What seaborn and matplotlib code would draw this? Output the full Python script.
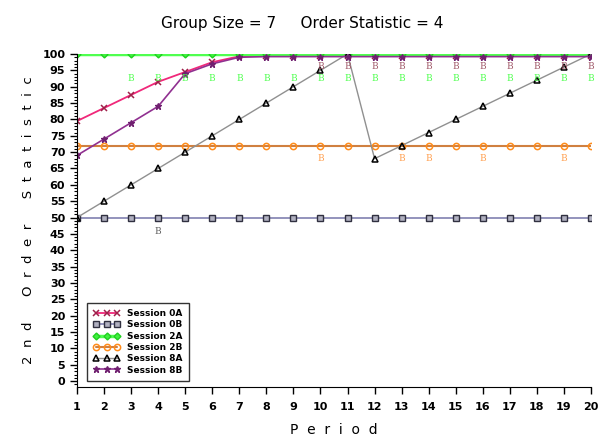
import numpy as np
import pandas as pd
import matplotlib
matplotlib.use("Agg")
import matplotlib.pyplot as plt
import seaborn as sns
from matplotlib.ticker import MultipleLocator

periods = list(range(1, 21))
s0A = [79.5, 83.5, 87.5, 91.5, 94.5, 97.5, 99.3, 99.5, 99.5, 99.5, 99.5, 99.5, 99.5, 99.5, 99.5, 99.5, 99.5, 99.5, 99.5, 99.5]
s0B = [50] * 20
s2A = [100] * 20
s2B = [72] * 20
s8A = [50, 55, 60, 65, 70, 75, 80, 85, 90, 95, 100, 68, 72, 76, 80, 84, 88, 92, 96, 100]
s8B = [69, 74, 79, 84, 94, 97, 99, 99.2, 99.2, 99.2, 99.2, 99.2, 99.2, 99.2, 99.2, 99.2, 99.2, 99.2, 99.2, 99.2]

labels = ["Session 0A", "Session 0B", "Session 2A", "Session 2B", "Session 8A", "Session 8B"]
series = [s0A, s0B, s2A, s2B, s8A, s8B]

# "B" annotations
bG_x = list(range(3, 21)); bG_y = 92.6
bM_x = list(range(10, 21)); bM_y = 96.3
bO_x = [10, 13, 14, 16, 19]; bO_y = 68.0
bK_x = [4]; bK_y = 45.7

sns.set_style("ticks")
plt.rcParams['font.family'] = ['DejaVu Sans']
plt.rcParams['text.color'] = 'black'
plt.rcParams['axes.labelcolor'] = 'black'
plt.rcParams['xtick.color'] = 'black'
plt.rcParams['ytick.color'] = 'black'
plt.rcParams['axes.edgecolor'] = 'black'

fig = plt.figure(figsize=(6.04, 4.43), dpi=100)
ax = fig.add_axes([77/604, 1 - 387/443, (591-77)/604, (387-54)/443])

styles = {
    "Session 0A": dict(color="#F0287A", marker="x", mec="#A0204A", mfc="none", ms=4.5, lw=1.3, mew=1.1),
    "Session 0B": dict(color="#8080B0", marker="s", mec="#303040", mfc="#B0B0C0", ms=4.5, lw=1.2, mew=1.0),
    "Session 2A": dict(color="#50FF50", marker="D", mec="#20D020", mfc="#40F040", ms=3.5, lw=2.5, mew=1.0),
    "Session 2B": dict(color="#D08040", marker="o", mec="#FF8C1A", mfc="none", ms=4.5, lw=1.5, mew=1.1),
    "Session 8A": dict(color="#909090", marker="^", mec="black", mfc="none", ms=4.5, lw=1.0, mew=1.1),
    "Session 8B": dict(color="#903090", marker="*", mec="#702070", mfc="#702070", ms=5, lw=1.2, mew=1.0),
}

for lab, vals in zip(labels, series):
    df = pd.DataFrame({"Period": periods, "v": vals})
    st = styles[lab]
    sns.lineplot(data=df, x="Period", y="v", ax=ax, label=lab, color=st["color"],
                 marker=st["marker"], markeredgecolor=st["mec"], markerfacecolor=st["mfc"],
                 markersize=st["ms"], linewidth=st["lw"], markeredgewidth=st["mew"])

bfont = dict(family="DejaVu Serif", fontsize=6.5, ha="center", va="center")
for x in bG_x:
    ax.text(x, bG_y, "B", color="#50FF50", **bfont)
for x in bM_x:
    ax.text(x, bM_y, "B", color="#A05868", **bfont)
for x in bO_x:
    ax.text(x, bO_y, "B", color="#FFA050", **bfont)
for x in bK_x:
    ax.text(x, bK_y, "B", color="#606060", **bfont)

ax.set_xlim(1, 20)
ax.set_ylim(-1.8, 100)
ax.set_xticks(periods)
ax.set_yticks(range(0, 101, 5))
ax.yaxis.set_minor_locator(MultipleLocator(1))
ax.tick_params(axis="both", which="major", labelsize=8, length=5, width=1, direction="out")
ax.tick_params(axis="y", which="minor", length=2.5, width=0.8)
for lbl in ax.get_xticklabels() + ax.get_yticklabels():
    lbl.set_fontweight("bold")
ax.tick_params(axis="x", pad=6)
ax.spines["top"].set_visible(False)
ax.spines["right"].set_visible(False)
ax.spines["left"].set_bounds(-1.8, 100)

ax.set_xlabel("P  e  r  i  o  d", fontsize=10, labelpad=8)
ax.set_ylabel("2  n  d      O  r  d  e  r      S  t  a  t  i  s  t  i  c", fontsize=9.5, labelpad=5)
fig.suptitle("Group Size = 7     Order Statistic = 4", fontsize=11, y=0.965)

leg = ax.legend(loc="lower left", numpoints=3, fontsize=6.5, frameon=True, fancybox=False,
                edgecolor="black", handlelength=3, borderpad=0.7, labelspacing=0.25,
                bbox_to_anchor=(0.01, 0.005))
leg.get_frame().set_linewidth(1.0)
for t in leg.get_texts():
    t.set_fontweight("bold")

fig.savefig("out.png", dpi=100)
